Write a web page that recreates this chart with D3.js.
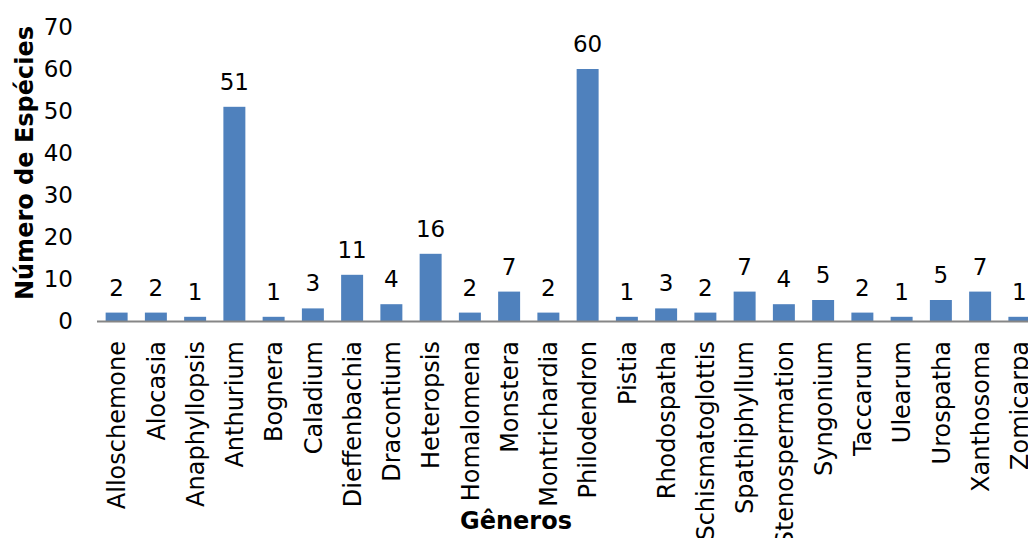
<!DOCTYPE html>
<html>
<head>
<meta charset="utf-8">
<script src="https://cdn.jsdelivr.net/npm/d3@7/dist/d3.min.js"></script>
<style>
  html, body { margin: 0; padding: 0; background: #fff; overflow: hidden; }
  svg { display: block; font-family: "DejaVu Sans", Verdana, sans-serif; }
</style>
</head>
<body>
<svg id="chart" width="1028" height="538"></svg>
<script>
// Araceae genera and number of species recorded for each
const genera = [
  "Alloschemone", "Alocasia", "Anaphyllopsis", "Anthurium", "Bognera",
  "Caladium", "Dieffenbachia", "Dracontium", "Heteropsis", "Homalomena",
  "Monstera", "Montrichardia", "Philodendron", "Pistia", "Rhodospatha",
  "Schismatoglottis", "Spathiphyllum", "Stenospermation", "Syngonium",
  "Taccarum", "Ulearum", "Urospatha", "Xanthosoma", "Zomicarpa"
];
const species = [2, 2, 1, 51, 1, 3, 11, 4, 16, 2, 7, 2, 60, 1, 3, 2, 7, 4, 5, 2, 1, 5, 7, 1];
const yTicks = [0, 10, 20, 30, 40, 50, 60, 70];

const svg = d3.select("#chart");

const x = d3.scaleBand()
  .domain(genera)
  .range([97, 1039])
  .paddingInner(0.44)
  .paddingOuter(0.22);

const y = d3.scaleLinear()
  .domain([0, 70])
  .range([321, 27]);

// bars
svg.append("g")
  .selectAll("rect")
  .data(genera)
  .join("rect")
  .attr("x", d => x(d))
  .attr("width", x.bandwidth())
  .attr("y", (d, i) => y(species[i]))
  .attr("height", (d, i) => y(0) - y(species[i]))
  .attr("fill", "#4f81bd");

// value labels
svg.append("g")
  .selectAll("text")
  .data(genera)
  .join("text")
  .attr("x", d => x(d) + x.bandwidth() / 2)
  .attr("y", (d, i) => y(species[i]) - 17)
  .attr("text-anchor", "middle")
  .attr("font-size", 23)
  .attr("fill", "#000")
  .text((d, i) => species[i]);

// y axis (labels only)
const yAxis = d3.axisLeft(y).tickValues(yTicks).tickSize(0).tickPadding(0);
const gy = svg.append("g").attr("transform", "translate(73,0)").call(yAxis);
gy.select(".domain").remove();
gy.selectAll("text").attr("font-size", 23).attr("fill", "#000")
  .attr("font-family", "DejaVu Sans, Verdana, sans-serif");

// x axis with rotated category names
const xAxis = d3.axisBottom(x).tickSize(0).tickPadding(0);
const gx = svg.append("g").attr("transform", "translate(0,321)").call(xAxis);
gx.select(".domain").attr("stroke", "#868686").attr("stroke-width", 2)
  .attr("d", "M97,0.5H1039");
gx.selectAll("text")
  .attr("font-size", 24)
  .attr("fill", "#000")
  .attr("font-family", "DejaVu Sans, Verdana, sans-serif")
  .attr("text-anchor", "end")
  .attr("dy", "0.36em")
  .attr("transform", "translate(0,20) rotate(-90)")
  .attr("x", 0)
  .attr("y", 0);

// axis titles
svg.append("text")
  .attr("transform", "translate(33,163) rotate(-90)")
  .attr("text-anchor", "middle")
  .attr("font-size", 24)
  .attr("font-weight", "bold")
  .text("Número de Espécies");

svg.append("text")
  .attr("x", 516)
  .attr("y", 529)
  .attr("text-anchor", "middle")
  .attr("font-size", 24)
  .attr("font-weight", "bold")
  .text("Gêneros");
</script>
</body>
</html>
